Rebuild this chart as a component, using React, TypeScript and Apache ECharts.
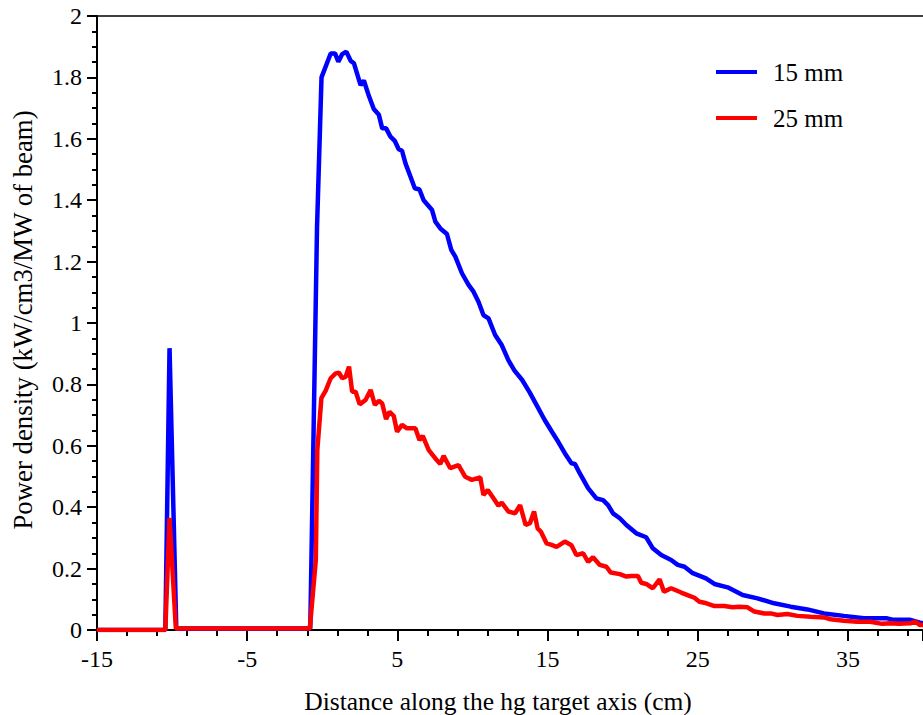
import React, { useEffect, useRef } from "react";
import * as echarts from "echarts";

// Distance along the hg target axis (cm) and power density (kW/cm3/MW of beam)
const X_15MM = [
  -15, -10.45, -10.17, -9.72, -0.8, -0.35, -0.05, 0.56, 0.85, 1.07, 1.33, 1.6, 1.89, 2.11, 2.55, 2.77,
  3.1, 3.43, 3.77, 3.99, 4.25, 4.54, 4.83, 5.09, 5.31, 5.54, 5.87, 6.16, 6.47, 6.75, 7.31,
  7.53, 7.86, 8.3, 8.59, 8.86, 9.3, 9.74, 10.07, 10.4, 10.73, 11.07, 11.51, 11.95, 12.39,
  12.8, 13.3, 13.8, 14.3, 14.8, 15.3, 15.71, 16.15, 16.59, 16.82, 17.15, 17.7, 18.25, 18.7,
  19.03, 19.36, 19.81, 20.25, 20.91, 21.57, 22.01, 22.57, 23.23, 23.67, 24.12, 24.67, 25.55,
  26.11, 26.99, 27.99, 28.98, 30.09, 31.19, 32.3, 33.41, 34.73, 36.06, 37.61, 38.05, 39.16,
  39.8, 40,
];
const Y_15MM = [
  0, 0, 0.918, 0.005, 0.005, 1.31, 1.8, 1.878, 1.878, 1.851, 1.876, 1.884, 1.854, 1.846, 1.775, 1.79,
  1.74, 1.697, 1.678, 1.634, 1.634, 1.607, 1.593, 1.566, 1.561, 1.52, 1.477, 1.439, 1.435, 1.4, 1.368,
  1.33, 1.308, 1.29, 1.238, 1.216, 1.162, 1.124, 1.102, 1.069, 1.026, 1.015, 0.961, 0.928, 0.879,
  0.845, 0.815, 0.775, 0.73, 0.685, 0.645, 0.613, 0.576, 0.543, 0.541, 0.51, 0.462, 0.429, 0.423,
  0.407, 0.38, 0.364, 0.342, 0.315, 0.302, 0.266, 0.244, 0.228, 0.212, 0.206, 0.185, 0.168,
  0.15, 0.139, 0.114, 0.103, 0.087, 0.076, 0.067, 0.054, 0.046, 0.038, 0.038, 0.033, 0.033,
  0.024, 0.022,
];

const X_25MM = [
  -15, -10.45, -10.17, -9.75, -0.83, -0.43, -0.33, -0.06, 0.23, 0.56, 0.89, 1.11, 1.33, 1.56, 1.78,
  1.99, 2.22, 2.49, 2.88, 3.22, 3.5, 3.77, 3.99, 4.25, 4.48, 4.76, 4.98, 5.31, 5.64, 6.2, 6.47,
  6.69, 7.09, 7.53, 7.86, 8.08, 8.52, 9.07, 9.52, 9.96, 10.52, 10.73, 11.02, 11.4, 11.73, 11.95,
  12.39, 12.84, 13.17, 13.54, 13.83, 14.1, 14.34, 14.56, 14.94, 15.27, 15.6, 16.15, 16.59, 16.92,
  17.37, 17.7, 18.03, 18.48, 18.92, 19.21, 19.81, 20.25, 20.58, 21.02, 21.24, 21.57, 22.01, 22.46,
  22.75, 23.23, 23.9, 24.45, 24.78, 25.11, 25.44, 26.11, 26.77, 27.32, 27.77, 28.32, 28.77, 29.43,
  29.87, 30.31, 30.97, 31.64, 32.52, 33.41, 33.85, 34.73, 35.62, 36.5, 37.28, 37.83, 38.38, 39.16,
  39.49, 39.8, 40,
];
const Y_25MM = [
  0, 0, 0.365, 0.005, 0.005, 0.228, 0.586, 0.755, 0.78, 0.82, 0.836, 0.838, 0.82, 0.825, 0.858,
  0.776, 0.776, 0.735, 0.749, 0.782, 0.733, 0.747, 0.738, 0.687, 0.711, 0.697, 0.646, 0.668, 0.657, 0.657, 0.619,
  0.632, 0.586, 0.559, 0.541, 0.567, 0.527, 0.537, 0.499, 0.489, 0.497, 0.44, 0.456, 0.429, 0.405, 0.415,
  0.386, 0.38, 0.407, 0.342, 0.348, 0.386, 0.331, 0.32, 0.282, 0.277, 0.271, 0.288, 0.276, 0.244,
  0.25, 0.222, 0.237, 0.212, 0.206, 0.187, 0.182, 0.174, 0.176, 0.176, 0.154, 0.15, 0.136, 0.165,
  0.125, 0.136, 0.122, 0.111, 0.105, 0.092, 0.089, 0.078, 0.078, 0.074, 0.076, 0.074, 0.06, 0.054,
  0.054, 0.049, 0.052, 0.046, 0.043, 0.041, 0.035, 0.03, 0.027, 0.027, 0.02, 0.022, 0.02, 0.022,
  0.027, 0.016, 0.016,
];

const SERIES_NAMES = ["15 mm", "25 mm"];
const SERIES_COLORS = ["#0000ff", "#ff0000"];
const X_TITLE = "Distance along the hg target axis (cm)";
const Y_TITLE = "Power density (kW/cm3/MW of beam)";

const FONT = "Liberation Serif";

export default function App() {
  const ref = useRef<HTMLDivElement>(null);
  useEffect(() => {
    if (!ref.current) return;
    const chart = echarts.init(ref.current, null, { renderer: "svg" });
    const toPairs = (xs: number[], ys: number[]) => xs.map((x, i) => [x, ys[i]]);
    chart.setOption({
      animation: false,
      backgroundColor: "#ffffff",
      textStyle: { fontFamily: FONT },
      grid: { left: 97, right: -3, top: 16, bottom: 85, containLabel: false },
      legend: {
        orient: "vertical",
        left: 716,
        top: 59,
        icon: "rect",
        itemWidth: 41,
        itemHeight: 4,
        itemGap: 20,
        padding: 0,
        data: SERIES_NAMES,
        textStyle: { fontFamily: FONT, fontSize: 25, color: "#000", lineHeight: 26, padding: [0, 0, 0, 11] },
      },
      xAxis: [
        {
          type: "value",
          position: "bottom",
          min: -15,
          max: 40,
          interval: 10,
          axisLine: { show: true, onZero: false, lineStyle: { color: "#000", width: 2 } },
          axisTick: { show: true, inside: false, length: 11, lineStyle: { color: "#000", width: 2 } },
          minorTick: { show: true, splitNumber: 5, length: 6, lineStyle: { color: "#000", width: 2 } },
          axisLabel: {
            color: "#000",
            fontFamily: FONT,
            fontSize: 24,
            lineHeight: 24,
            padding: [0, 0, 0, 0],
            margin: 17,
            showMaxLabel: false,
          },
          splitLine: { show: false },
        },
        {
          type: "value",
          position: "top",
          min: -15,
          max: 40,
          axisLine: { show: true, onZero: false, lineStyle: { color: "#000", width: 1.5 } },
          axisTick: { show: false },
          axisLabel: { show: false },
          splitLine: { show: false },
        },
      ],
      yAxis: {
        type: "value",
        min: 0,
        max: 2,
        interval: 0.2,
        axisLine: { show: true, onZero: false, lineStyle: { color: "#000", width: 2 } },
        axisTick: { show: true, inside: false, length: 10, lineStyle: { color: "#000", width: 2 } },
        minorTick: { show: true, splitNumber: 4, length: 5, lineStyle: { color: "#000", width: 2 } },
        axisLabel: {
          color: "#000",
          fontFamily: FONT,
          fontSize: 24,
          lineHeight: 24,
          padding: [0, 0, 0, 0],
          margin: 15,
        },
        splitLine: { show: false },
      },
      graphic: [
        {
          type: "text",
          x: 498,
          y: 701,
          style: {
            text: X_TITLE,
            fontFamily: FONT,
            fontSize: 25.5,
            lineHeight: 26,
            padding: [0, 0, 0, 0],
            fill: "#000",
            textAlign: "center",
            textVerticalAlign: "middle",
          },
        },
        {
          type: "text",
          x: 23,
          y: 320,
          rotation: Math.PI / 2,
          style: {
            text: Y_TITLE,
            fontFamily: FONT,
            fontSize: 26.8,
            lineHeight: 27,
            padding: [0, 0, 0, 0],
            fill: "#000",
            textAlign: "center",
            textVerticalAlign: "middle",
          },
        },
      ],
      series: [
        {
          name: SERIES_NAMES[0],
          type: "line",
          data: toPairs(X_15MM, Y_15MM),
          symbol: "none",
          lineStyle: { color: SERIES_COLORS[0], width: 4.5 },
          itemStyle: { color: SERIES_COLORS[0] },
          clip: true,
        },
        {
          name: SERIES_NAMES[1],
          type: "line",
          data: toPairs(X_25MM, Y_25MM),
          symbol: "none",
          lineStyle: { color: SERIES_COLORS[1], width: 4.5 },
          itemStyle: { color: SERIES_COLORS[1] },
          clip: true,
        },
      ],
    });
    return () => chart.dispose();
  }, []);
  return (
    <div
      ref={ref}
      style={{ position: "fixed", left: 0, top: 0, width: 923, height: 715, background: "#fff" }}
    />
  );
}
